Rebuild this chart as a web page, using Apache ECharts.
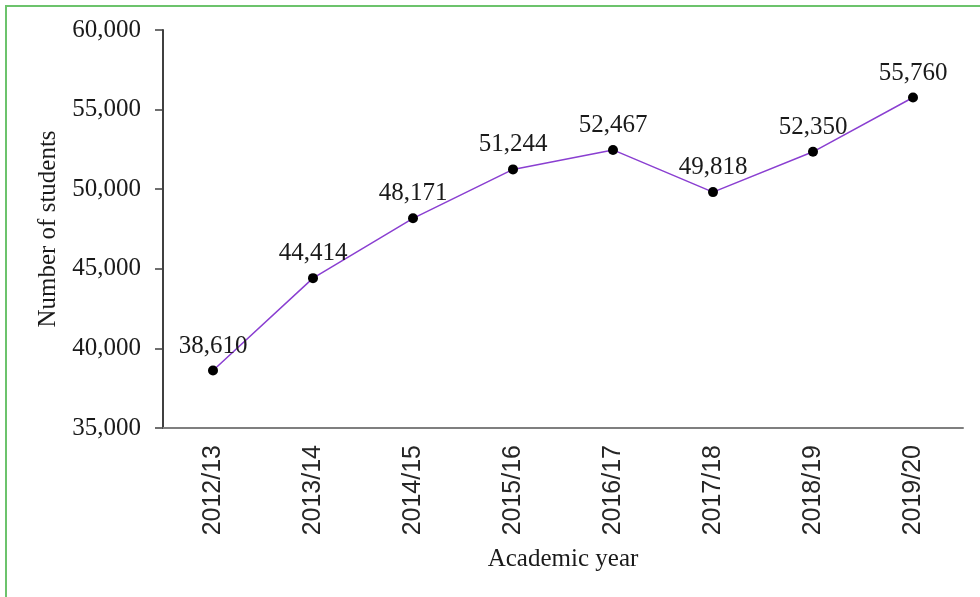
<!DOCTYPE html>
<html><head><meta charset="utf-8">
<script src="https://cdn.jsdelivr.net/npm/echarts@6/dist/echarts.min.js"></script>
<style>
html,body{margin:0;padding:0;background:#fff;}
#frame{position:absolute;left:5px;top:5px;width:975px;height:592px;border-top:2px solid #6cc36c;border-left:2px solid #6cc36c;box-sizing:border-box;}
#c{position:absolute;left:0;top:0;width:980px;height:597px;}
</style></head>
<body>
<div id="frame"></div>
<div id="c"></div>
<script>
const categories = ['2012/13','2013/14','2014/15','2015/16','2016/17','2017/18','2018/19','2019/20'];
const students = [38610, 44414, 48171, 51244, 52467, 49818, 52350, 55760];
const yTicks = {min: 35000, max: 60000, interval: 5000};

const chart = echarts.init(document.getElementById('c'), null, {renderer:'canvas'});
const serif = 'Liberation Serif';
chart.setOption({
  backgroundColor: 'transparent',
  animation: false,
  grid: {left: 163, right: 17, top: 30, bottom: 169},
  xAxis: {
    type: 'category',
    data: categories,
    boundaryGap: true,
    name: 'Academic year',
    nameLocation: 'middle',
    nameGap: 119,
    nameTextStyle: {fontFamily: serif, fontSize: 25, color: '#1a1a1a'},
    axisLine: {lineStyle: {color: '#7f7f7f', width: 2}},
    axisTick: {show: false},
    axisLabel: {rotate: 90, fontFamily: 'Liberation Sans', fontSize: 25, color: '#262626', margin: 17}
  },
  yAxis: {
    type: 'value',
    min: yTicks.min, max: yTicks.max, interval: yTicks.interval,
    name: 'Number of students',
    nameLocation: 'middle',
    nameGap: 102,
    nameTextStyle: {fontFamily: serif, fontSize: 25, color: '#1a1a1a'},
    axisLine: {show: true, lineStyle: {color: '#404040', width: 2}},
    axisTick: {show: true, length: 8, lineStyle: {color: '#404040', width: 1.5}},
    splitLine: {show: false},
    axisLabel: {fontFamily: serif, fontSize: 25, color: '#1a1a1a', margin: 22,
      formatter: v => v.toLocaleString('en-US')}
  },
  series: [{
    type: 'line',
    data: students,
    symbol: 'circle',
    symbolSize: 10,
    itemStyle: {color: '#000'},
    lineStyle: {color: '#8a3fd1', width: 1.5},
    label: {show: true, position: 'top', distance: 7, fontFamily: serif, fontSize: 25, color: '#1a1a1a',
      formatter: p => p.value.toLocaleString('en-US')}
  }]
});
</script>
</body></html>
